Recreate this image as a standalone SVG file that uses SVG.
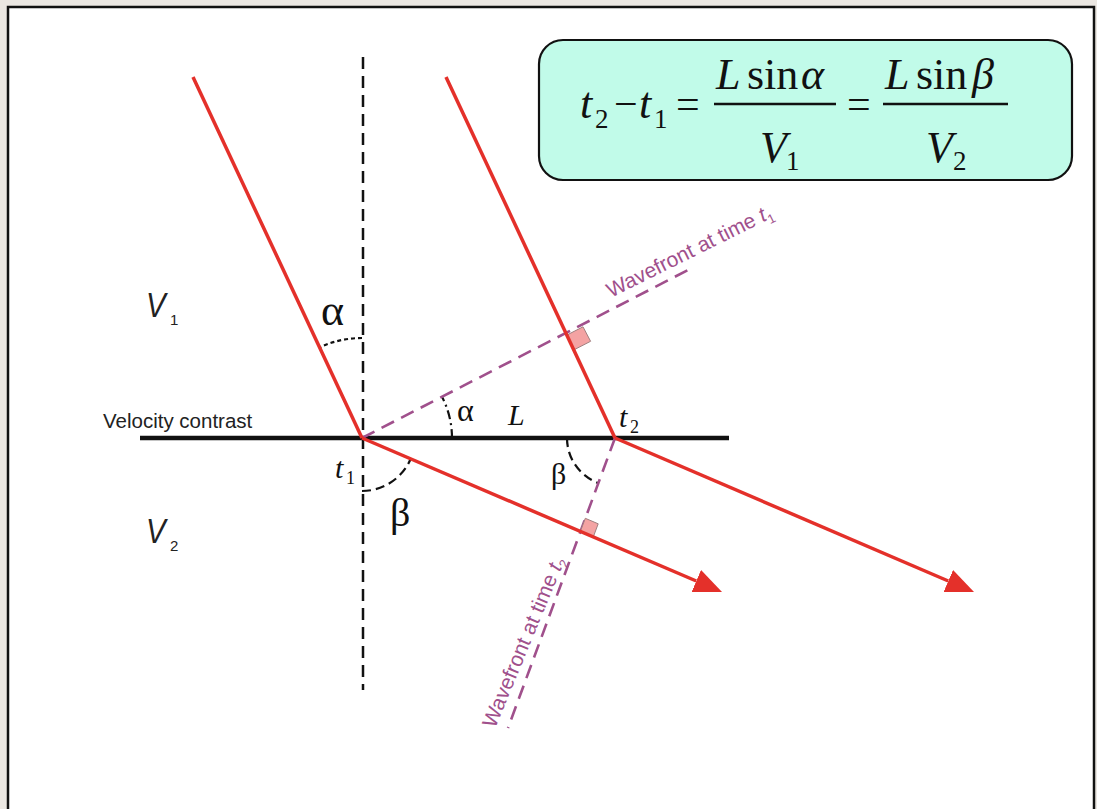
<svg xmlns="http://www.w3.org/2000/svg" width="1097" height="809" viewBox="0 0 1097 809">
<defs>
<style>
.ray{stroke:#e4302a;stroke-width:3.5;fill:none;stroke-linecap:butt}
.wf{stroke:#a0508c;stroke-width:2.6;fill:none;stroke-dasharray:14 8}
.arc{stroke:#111;stroke-width:2.2;fill:none}
.sq{fill:#f4a3a3;stroke:#a08080;stroke-width:1}
.serif{font-family:"Liberation Serif","Times New Roman",serif;fill:#111}
.it{font-style:italic}
.sans{font-family:"Liberation Sans",Arial,sans-serif;fill:#222}
.wft{font-family:"Liberation Sans",Arial,sans-serif;fill:#a0508c;font-size:21px}
</style>
<marker id="ah" markerUnits="userSpaceOnUse" markerWidth="28" markerHeight="24" viewBox="0 0 28 24" refX="0" refY="12" orient="auto">
<path d="M0,0 L28,12 L0,24 z" fill="#e4302a"/>
</marker>
</defs>
<rect x="0" y="0" width="1097" height="809" fill="#ebe7e2"/>
<rect x="8" y="7" width="1086" height="830" fill="#fff" stroke="#111" stroke-width="2.5"/>

<g id="formula">
<rect x="539" y="40" width="533" height="140" rx="24" ry="24" fill="#c1fbe9" stroke="#111" stroke-width="2.2"/>
<text class="serif it" x="580" y="118" font-size="44">t</text>
<text class="serif" x="595" y="128" font-size="27">2</text>
<text class="serif" x="614" y="118" font-size="42">−</text>
<text class="serif it" x="639" y="118" font-size="44">t</text>
<text class="serif" x="654" y="128" font-size="27">1</text>
<text class="serif" x="676" y="118" font-size="42">=</text>
<line x1="714" y1="104" x2="836" y2="104" stroke="#111" stroke-width="2.5"/>
<text class="serif it" x="716" y="89" font-size="44">L</text>
<text class="serif" x="747" y="89" font-size="44">sin</text>
<text class="serif it" x="801" y="89" font-size="44">α</text>
<text class="serif it" x="760" y="162" font-size="44">V</text>
<text class="serif" x="786" y="170" font-size="27">1</text>
<text class="serif" x="847" y="118" font-size="42">=</text>
<line x1="883" y1="104" x2="1008" y2="104" stroke="#111" stroke-width="2.5"/>
<text class="serif it" x="885" y="89" font-size="44">L</text>
<text class="serif" x="916" y="89" font-size="44">sin</text>
<text class="serif it" x="972" y="89" font-size="44">β</text>
<text class="serif it" x="926" y="162" font-size="44">V</text>
<text class="serif" x="953" y="170" font-size="27">2</text>
</g>

<g id="normal">
<line x1="363" y1="57" x2="363" y2="690" stroke="#111" stroke-width="2.5" stroke-dasharray="12 7"/>
</g>

<g id="interface">
<line x1="140" y1="438" x2="729" y2="438" stroke="#111" stroke-width="4.5"/>
<text class="sans" x="103" y="428" font-size="20.5">Velocity contrast</text>
</g>

<g id="labels">
<text class="sans it" transform="translate(146,317) scale(0.82,1)" font-size="36">V</text>
<text class="sans" x="170" y="325" font-size="15">1</text>
<text class="sans it" transform="translate(146,543) scale(0.82,1)" font-size="36">V</text>
<text class="sans" x="170" y="551" font-size="15">2</text>
<text class="serif" x="321" y="325" font-size="44">α</text>
<text class="serif" x="457" y="421" font-size="32">α</text>
<text class="serif it" x="508" y="425" font-size="30">L</text>
<text class="serif it" x="619" y="427" font-size="30">t</text>
<text class="serif" x="630" y="433" font-size="18">2</text>
<text class="serif it" x="335" y="478" font-size="30">t</text>
<text class="serif" x="346" y="484" font-size="18">1</text>
<text class="serif" x="390" y="526" font-size="40">β</text>
<text class="serif" x="551" y="484" font-size="30">β</text>
</g>

<g id="arcs">
<path class="arc" d="M362 338 A100 100 0 0 0 319.6 347.4" stroke-dasharray="4 3"/>
<path class="arc" d="M452 438 A90 90 0 0 0 442 396.8" stroke-dasharray="9 4 2 4"/>
<path class="arc" d="M362 491 A53 53 0 0 0 410.7 458.8" stroke-dasharray="9 5"/>
<path class="arc" d="M567 438 A48 48 0 0 0 598.3 483" stroke-dasharray="9 5"/>
</g>

<g id="wavefronts">
<line class="wf" x1="362" y1="438" x2="688" y2="270"/>
<line class="wf" x1="615" y1="438" x2="508" y2="728"/>
<polygon class="sq" points="567,335 583,326.8 590.6,341.3 574.6,349.5"/>
<polygon class="sq" points="580.4,531.4 593.3,536.9 598.2,523.8 585.3,518.3"/>
<text class="wft" transform="translate(611,298) rotate(-26.5)">Wavefront at time <tspan font-style="italic">t</tspan><tspan font-size="13" dy="5">1</tspan></text>
<text class="wft" transform="translate(495,729) rotate(-67.5)">Wavefront at time <tspan font-style="italic">t</tspan><tspan font-size="13" dy="5">2</tspan></text>
</g>

<g id="connectors">
<line class="ray" x1="193" y1="77" x2="362" y2="438"/>
<line class="ray" x1="362" y1="438" x2="696.3" y2="581" marker-end="url(#ah)"/>
<line class="ray" x1="446" y1="77" x2="615" y2="438"/>
<line class="ray" x1="615" y1="438" x2="948.3" y2="581" marker-end="url(#ah)"/>
</g>
</svg>
